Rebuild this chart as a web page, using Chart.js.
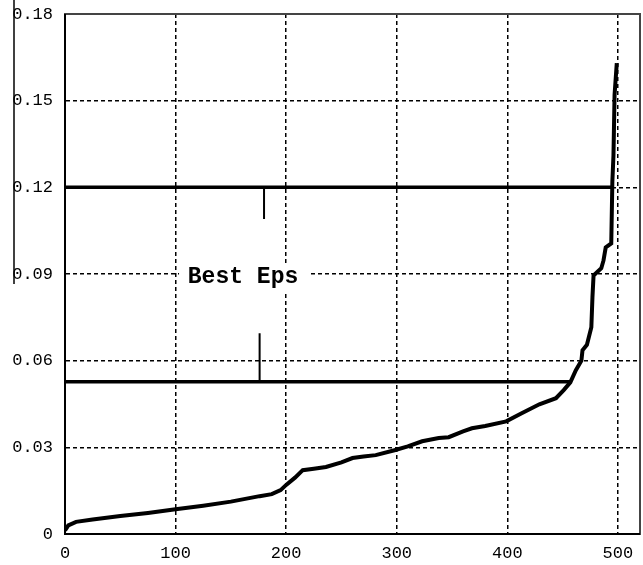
<!DOCTYPE html>
<html>
<head>
<meta charset="utf-8">
<script src="https://cdn.jsdelivr.net/npm/chart.js@4.4.1/dist/chart.umd.min.js"></script>
<style>
  html, body { margin: 0; padding: 0; background: #fff; }
  #wrap { width: 643px; height: 565px; }
</style>
</head>
<body>
<div id="wrap"><canvas id="chartEps"></canvas></div>
<script>
// sorted k-distance curve
const pointIndex = [0, 3, 10, 25, 50, 75, 100, 125, 150, 176, 187, 195, 200, 208, 215, 225, 236, 250, 260, 270,
  281, 298, 310, 323, 338, 347, 360, 368, 380, 399, 413, 429, 444, 451, 457, 462, 467, 468, 472, 476,
  477, 478, 485, 487, 489, 494, 495, 496, 497, 499];
const kDistance = [0.0012, 0.003, 0.0042, 0.005, 0.0062, 0.0073, 0.0086, 0.0098, 0.0112, 0.0131, 0.0138, 0.0152,
  0.017, 0.0195, 0.0221, 0.0226, 0.0232, 0.0248, 0.0263, 0.0268, 0.0273, 0.029, 0.0303, 0.0321, 0.0332,
  0.0335, 0.0355, 0.0366, 0.0374, 0.039, 0.0418, 0.0449, 0.047, 0.0498, 0.0525, 0.0567, 0.06, 0.0636,
  0.0655, 0.0716, 0.082, 0.0895, 0.092, 0.0947, 0.0992, 0.1006, 0.122, 0.131, 0.152, 0.163];

// bounds of the "best eps" band
const epsUpper = 0.12;
const epsLower = 0.0527;
const upperLineEnd = 494;
const lowerLineEnd = 457;
const upperMark = { x: 180, from: 0.12, to: 0.109 };
const lowerMark = { x: 176, from: 0.0695, to: 0.0527 };
const bandLabel = { text: "Best Eps", x: 161, y: 0.0888 };

const xTicks = [0, 100, 200, 300, 400, 500];
const yTicks = [0, 0.03, 0.06, 0.09, 0.12, 0.15, 0.18];

const curve = pointIndex.map((x, i) => ({ x: x, y: kDistance[i] }));

const black = "#000";
const lineDs = (data, width) => ({
  data: data,
  borderColor: black,
  borderWidth: width,
  pointRadius: 0,
  tension: 0,
  fill: false,
});

// solid frame, label box + stray edge line
const labelPlugin = {
  id: "bandLabel",
  beforeDatasetsDraw(chart) {
    const { ctx, chartArea: a } = chart;
    ctx.save();
    ctx.strokeStyle = "#444";
    ctx.lineWidth = 2;
    ctx.strokeRect(a.left, a.top, a.right - a.left, a.bottom - a.top);
    ctx.strokeStyle = black;
    ctx.beginPath();
    ctx.moveTo(a.left, a.top);
    ctx.lineTo(a.left, a.bottom);
    ctx.lineTo(a.right, a.bottom);
    ctx.stroke();
    ctx.restore();
  },
  afterDatasetsDraw(chart) {
    const { ctx, scales } = chart;
    const cx = scales.x.getPixelForValue(bandLabel.x);
    const cy = scales.y.getPixelForValue(bandLabel.y);
    ctx.save();
    ctx.fillStyle = "#fff";
    ctx.fillRect(cx - 64, cy - 13, 130, 27);
    ctx.fillStyle = black;
    ctx.font = "bold 23px 'Liberation Mono', monospace";
    ctx.textAlign = "center";
    ctx.textBaseline = "middle";
    ctx.fillText(bandLabel.text, cx, cy);
    ctx.restore();
  },
  afterDraw(chart) {
    const ctx = chart.ctx;
    ctx.save();
    ctx.strokeStyle = black;
    ctx.lineWidth = 1.5;
    ctx.beginPath();
    ctx.moveTo(14, 0);
    ctx.lineTo(14, 284);
    ctx.stroke();
    ctx.restore();
  },
};

const ctxEps = document.getElementById("chartEps");
new Chart(ctxEps, {
  type: "line",
  data: {
    datasets: [
      lineDs([{ x: 0, y: epsUpper }, { x: upperLineEnd, y: epsUpper }], 3.5),
      lineDs([{ x: 0, y: epsLower }, { x: lowerLineEnd, y: epsLower }], 3.5),
      lineDs([{ x: upperMark.x, y: upperMark.from }, { x: upperMark.x, y: upperMark.to }], 2),
      lineDs([{ x: lowerMark.x, y: lowerMark.from }, { x: lowerMark.x, y: lowerMark.to }], 2),
      lineDs(curve, 4),
    ],
  },
  options: {
    responsive: true,
    maintainAspectRatio: false,
    animation: false,
    layout: { padding: { left: 0, top: 14, right: 3, bottom: 0 } },
    plugins: { legend: { display: false }, tooltip: { enabled: false } },
    scales: {
      x: {
        type: "linear",
        min: 0,
        max: 520,
        afterBuildTicks: (s) => { s.ticks = xTicks.map((v) => ({ value: v })); },
        afterFit: (s) => { s.height = 31; s.paddingLeft = 0; s.paddingRight = 0; },
        grid: { color: black, lineWidth: 1.5, drawTicks: false },
        border: { color: "#222", width: 2, dash: [4, 3] },
        ticks: {
          color: black,
          padding: 9,
          font: { family: "'Liberation Mono', monospace", size: 17 },
        },
      },
      y: {
        min: 0,
        max: 0.18,
        afterBuildTicks: (s) => { s.ticks = yTicks.map((v) => ({ value: v })); },
        afterFit: (s) => { s.width = 65; s.paddingTop = 0; s.paddingBottom = 0; },
        grid: { color: black, lineWidth: 1.5, drawTicks: false },
        border: { color: "#222", width: 2, dash: [4, 3] },
        ticks: {
          color: black,
          padding: 12,
          font: { family: "'Liberation Mono', monospace", size: 17 },
          callback: (v) => (v === 0 ? "0" : v.toFixed(2)),
        },
      },
    },
  },
  plugins: [labelPlugin],
});
</script>
</body>
</html>
